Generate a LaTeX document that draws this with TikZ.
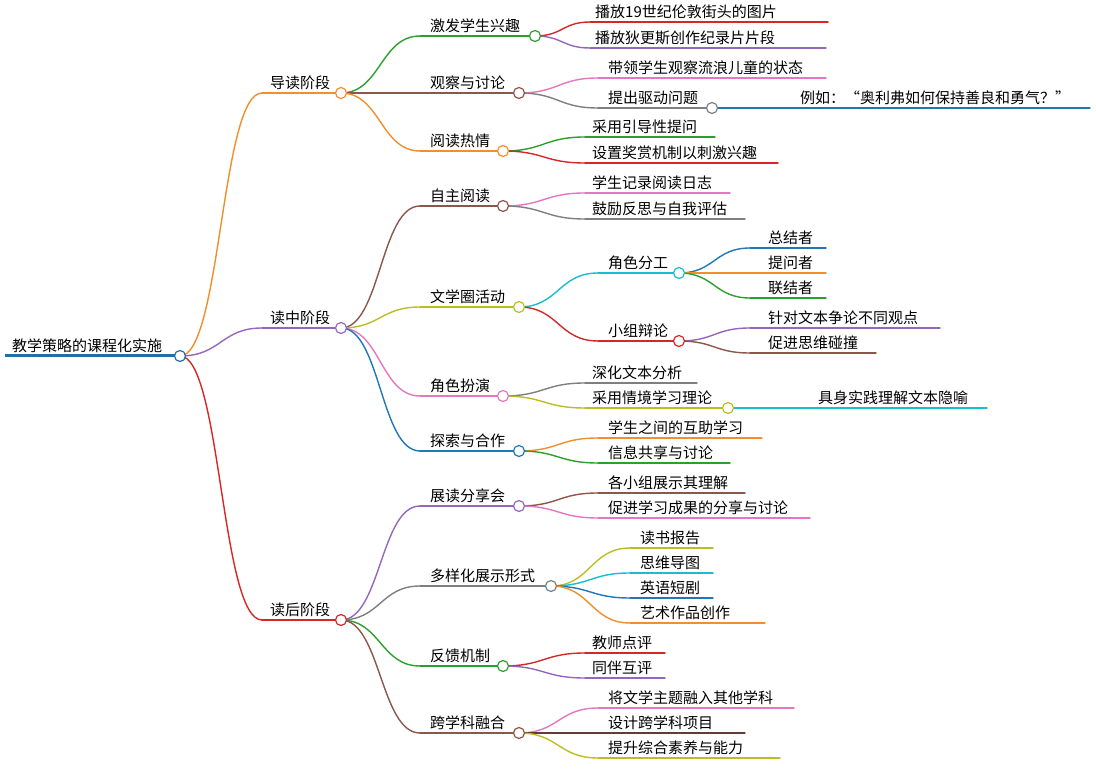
\documentclass[tikz,border=0pt]{standalone}
\usepackage{fontspec}
\setmainfont{Noto Sans CJK SC}
\usetikzlibrary{calc,positioning}
\definecolor{cOrange}{HTML}{F28E2B}
\definecolor{cPurple}{HTML}{9467BD}
\definecolor{cRed}{HTML}{D62728}
\definecolor{cGreen}{HTML}{2CA02C}
\definecolor{cBrown}{HTML}{8C564B}
\definecolor{cPink}{HTML}{E377C2}
\definecolor{cGray}{HTML}{7F7F7F}
\definecolor{cOlive}{HTML}{BCBD22}
\definecolor{cCyan}{HTML}{17BECF}
\definecolor{cBlue}{HTML}{1F77B4}
\definecolor{cRoot}{HTML}{1F6FA8}
\tikzset{
	lbl/.style={anchor=south west,inner sep=0pt,font=\fontsize{15}{18}\selectfont,yshift=3pt},
	bline/.style={line width=1.4pt,line cap=round},
	dot/.style={circle,draw=#1,fill=white,line width=1.2pt,minimum size=11pt,inner sep=0pt}
}
% name, line start, text x, line end, y, colour, text
\newcommand{\topic}[7]{%
	\node[lbl] (#1) at (#3,#5) {#7};
	\draw[bline,#6] (#2,#5) coordinate (#1-in) -- (#4,#5) coordinate (#1-out);}
\newcommand{\conn}[3]{%
	\draw[bline,#3] (#1) .. controls ($(#1)!0.5!(#2|-#1)$) and ($(#2)!0.5!(#1|-#2)$) .. (#2);}
\begin{document}
\begin{tikzpicture}[x=1pt,y=-1pt]
	\useasboundingbox (0,0) rectangle (1096,783);
	\node[lbl] (root) at (12,356) {教学策略的课程化实施};
	\draw[line width=3pt,cRoot] (5,356) -- (180,356) coordinate (root-out);
	% level 1
	\topic{s1}{262}{270}{341}{93}{cOrange}{导读阶段}
	\topic{s2}{262}{270}{341}{328}{cPurple}{读中阶段}
	\topic{s3}{262}{270}{341}{620}{cRed}{读后阶段}
	\conn{root-out}{s1-in}{cOrange}
	\conn{root-out}{s2-in}{cPurple}
	\conn{root-out}{s3-in}{cRed}
	% level 2
	\topic{a1}{420}{430}{535}{36}{cGreen}{激发学生兴趣}
	\topic{a2}{420}{430}{519}{93}{cBrown}{观察与讨论}
	\topic{a3}{420}{430}{503}{151}{cOrange}{阅读热情}
	\topic{b1}{420}{430}{503}{206}{cBrown}{自主阅读}
	\topic{b2}{420}{430}{519}{307}{cOlive}{文学圈活动}
	\topic{b3}{420}{430}{503}{396}{cPink}{角色扮演}
	\topic{b4}{420}{430}{519}{451}{cBlue}{探索与合作}
	\topic{c1}{420}{430}{519}{506}{cPurple}{展读分享会}
	\topic{c2}{420}{430}{551}{586}{cGray}{多样化展示形式}
	\topic{c3}{420}{430}{503}{666}{cGreen}{反馈机制}
	\topic{c4}{420}{430}{519}{733}{cBrown}{跨学科融合}
	\foreach \p/\c/\k in {s1/a1/cGreen,s1/a2/cBrown,s1/a3/cOrange,s2/b1/cBrown,s2/b2/cOlive,s2/b3/cPink,s2/b4/cBlue,s3/c1/cPurple,s3/c2/cGray,s3/c3/cGreen,s3/c4/cBrown}
		{\conn{\p-out}{\c-in}{\k}}
	% level 3
	\topic{a11}{590}{595}{828}{22}{cRed}{播放19世纪伦敦街头的图片}
	\topic{a12}{590}{595}{826}{48}{cPurple}{播放狄更斯创作纪录片片段}
	\topic{a21}{598}{608}{826}{78}{cPink}{带领学生观察流浪儿童的状态}
	\topic{a22}{598}{608}{712}{108}{cGray}{提出驱动问题}
	\topic{a31}{585}{592}{715}{137}{cGreen}{采用引导性提问}
	\topic{a32}{585}{592}{778}{163}{cRed}{设置奖赏机制以刺激兴趣}
	\topic{b11}{585}{592}{730}{193}{cPink}{学生记录阅读日志}
	\topic{b12}{585}{592}{745}{219}{cGray}{鼓励反思与自我评估}
	\topic{b21}{598}{608}{679}{273}{cCyan}{角色分工}
	\topic{b22}{598}{608}{679}{341}{cRed}{小组辩论}
	\topic{b31}{585}{592}{697}{383}{cGray}{深化文本分析}
	\topic{b32}{585}{592}{728}{408}{cOlive}{采用情境学习理论}
	\topic{b41}{598}{608}{762}{438}{cOrange}{学生之间的互助学习}
	\topic{b42}{598}{608}{730}{463}{cGreen}{信息共享与讨论}
	\topic{c11}{598}{608}{745}{493}{cBrown}{各小组展示其理解}
	\topic{c12}{598}{608}{810}{518}{cPink}{促进学习成果的分享与讨论}
	\topic{c21}{630}{640}{713}{548}{cOlive}{读书报告}
	\topic{c22}{630}{640}{713}{573}{cCyan}{思维导图}
	\topic{c23}{630}{640}{713}{598}{cBlue}{英语短剧}
	\topic{c24}{630}{640}{765}{623}{cOrange}{艺术作品创作}
	\topic{c31}{585}{592}{665}{653}{cRed}{教师点评}
	\topic{c32}{585}{592}{665}{678}{cPurple}{同伴互评}
	\topic{c41}{598}{608}{794}{708}{cPink}{将文学主题融入其他学科}
	\topic{c42}{598}{608}{745}{733}{cBrown!70!black}{设计跨学科项目}
	\topic{c43}{598}{608}{780}{758}{cOlive}{提升综合素养与能力}
	\foreach \p/\c/\k in {a1/a11/cRed,a1/a12/cPurple,a2/a21/cPink,a2/a22/cGray,a3/a31/cGreen,a3/a32/cRed,b1/b11/cPink,b1/b12/cGray,b2/b21/cCyan,b2/b22/cRed,b3/b31/cGray,b3/b32/cOlive,b4/b41/cOrange,b4/b42/cGreen,c1/c11/cBrown,c1/c12/cPink,c2/c21/cOlive,c2/c22/cCyan,c2/c23/cBlue,c2/c24/cOrange,c3/c31/cRed,c3/c32/cPurple,c4/c41/cPink,c4/c42/cBrown!70!black,c4/c43/cOlive}
		{\conn{\p-out}{\c-in}{\k}}
	% level 4
	\topic{a221}{718}{800}{1090}{108}{cBlue}{例如：“奥利弗如何保持善良和勇气？”}
	\topic{b211}{750}{768}{826}{248}{cBlue}{总结者}
	\topic{b212}{750}{768}{826}{273}{cOrange}{提问者}
	\topic{b213}{750}{768}{826}{298}{cGreen}{联结者}
	\topic{b221}{750}{768}{940}{328}{cPurple}{针对文本争论不同观点}
	\topic{b222}{750}{768}{876}{353}{cBrown}{促进思维碰撞}
	\topic{b321}{734}{818}{987}{408}{cCyan}{具身实践理解文本隐喻}
	\foreach \p/\c/\k in {a22/a221/cBlue,b21/b211/cBlue,b21/b212/cOrange,b21/b213/cGreen,b22/b221/cPurple,b22/b222/cBrown,b32/b321/cCyan}
		{\conn{\p-out}{\c-in}{\k}}
	% junction circles
	\node[dot=cRoot] at (root-out) {};
	\foreach \n/\k in {s1/cOrange,s2/cPurple,s3/cRed,a1/cGreen,a2/cBrown,a3/cOrange,b1/cBrown,b2/cOlive,b3/cPink,b4/cBlue,c1/cPurple,c2/cGray,c3/cGreen,c4/cBrown,a22/cGray,b21/cCyan,b22/cRed,b32/cOlive}
		{\node[dot=\k] at (\n-out) {};}
\end{tikzpicture}
\end{document}
